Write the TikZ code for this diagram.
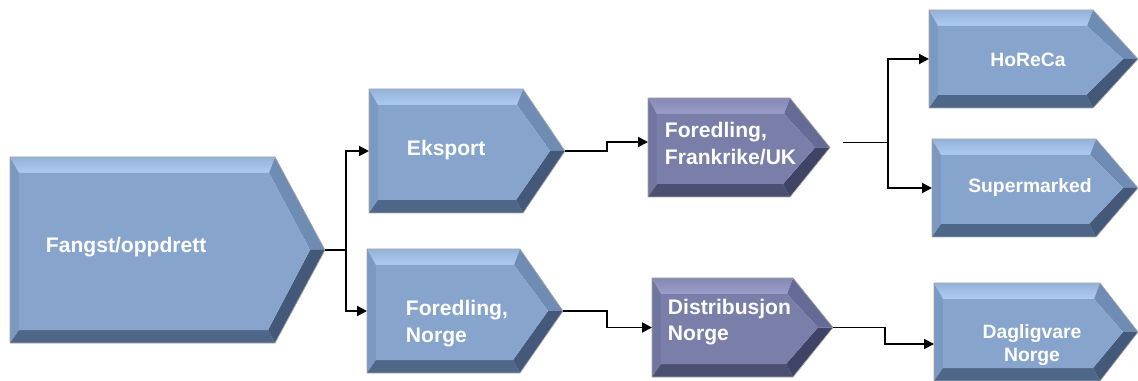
\documentclass[tikz,border=0pt]{standalone}
\usepackage{fontspec}
\setmainfont{Liberation Sans}
\usetikzlibrary{calc, arrows.meta}

% farger: lys og mork boks
\definecolor{ltmain}{HTML}{87A4CC}
\definecolor{lttop}{HTML}{AECBF0}
\definecolor{ltleft}{HTML}{7C99C2}
\definecolor{ltbot}{HTML}{4E6687}
\definecolor{ltrup}{HTML}{6F8CB4}
\definecolor{ltrlo}{HTML}{44597A}
\definecolor{dkmain}{HTML}{7A7FAA}
\definecolor{dktop}{HTML}{9A9EC8}
\definecolor{dkleft}{HTML}{7176A0}
\definecolor{dkbot}{HTML}{4B4F72}
\definecolor{dkrup}{HTML}{666B95}
\definecolor{dkrlo}{HTML}{3F4366}

% pil-boks med skra kant: navn, spisslengde, farge
\newcommand{\chevron}[3]{%
  \coordinate (#1-tip) at ($(#1.east)+(#2,0)$);
  \coordinate (#1-a) at ($(#1.north west)+(9,16)$);
  \coordinate (#1-b) at ($(#1.north east)+(-6,16)$);
  \coordinate (#1-c) at ($(#1-tip)+(-15,0)$);
  \coordinate (#1-d) at ($(#1.south east)+(-7,-13)$);
  \coordinate (#1-e) at ($(#1.south west)+(9,-13)$);
  \shade[top color=#3top!35!#3main, bottom color=#3top] (#1.north west) -- (#1.north east) -- (#1-b) -- (#1-a) -- cycle;
  \fill[#3left] (#1.north west) -- (#1-a) -- (#1-e) -- (#1.south west) -- cycle;
  \fill[#3bot] (#1.south west) -- (#1-e) -- (#1-d) -- (#1.south east) -- cycle;
  \fill[#3rup] (#1.north east) -- (#1-tip) -- (#1-c) -- (#1-b) -- cycle;
  \fill[#3rlo] (#1-tip) -- (#1.south east) -- (#1-d) -- (#1-c) -- cycle;
  \fill[#3main] (#1-a) -- (#1-b) -- (#1-c) -- (#1-d) -- (#1-e) -- cycle;
  \draw[edge] (#1.north west) -- (#1.north east) -- (#1-tip) -- (#1.south east) -- (#1.south west) -- cycle;
}

\begin{document}
\begin{tikzpicture}[x=0.02cm, y=-0.02cm, >={Triangle[length=0.2cm, width=0.2cm]}, line width=1.1pt]
        \tikzset{
          body/.style 2 args={rectangle, inner sep=0pt, outer sep=0pt, minimum width=#1*0.02cm, minimum height=#2*0.02cm},
          edge/.style={draw=gray!70, line width=0.4pt},
          lbl/.style={text=white, font=\bfseries\fontsize{12}{15}\selectfont, align=left, inner sep=0pt},
          lbls/.style={lbl, font=\bfseries\fontsize{11}{13.5}\selectfont, align=center}
        }
        \useasboundingbox (0,0) rectangle (1138,381);

        % Bokser
        \node [body={265}{186}] (fang) at (142.5,250) {};
        \node [body={154}{124}] (eks) at (446,151) {};
        \node [body={153}{124}] (fno) at (443.5,311) {};
        \node [body={142}{99}] (fuk) at (719,147.5) {};
        \node [body={141}{99}] (dno) at (722.5,327.5) {};
        \node [body={164}{98}] (hor) at (1011,59) {};
        \node [body={164}{98}] (sup) at (1014,188) {};
        \node [body={166}{98}] (dag) at (1017,332) {};

        \chevron{fang}{50}{lt}
        \chevron{eks}{42}{lt}
        \chevron{fno}{43}{lt}
        \chevron{fuk}{40}{dk}
        \chevron{dno}{40}{dk}
        \chevron{hor}{45}{lt}
        \chevron{sup}{42}{lt}
        \chevron{dag}{38}{lt}

        % Tekst
        \node [lbl, anchor=west] (fang-l) at ($(fang.west)+(35,-3)$) {Fangst/oppdrett};
        \node [lbl, anchor=west] (eks-l) at ($(eks.west)+(37,-1)$) {Eksport};
        \node [lbl, anchor=west] (fno-l) at ($(fno.west)+(38,12.5)$) {Foredling,\\Norge};
        \node [lbl, anchor=west] (fuk-l) at ($(fuk.west)+(16,-4)$) {Foredling,\\Frankrike/UK};
        \node [lbl, anchor=west] (dno-l) at ($(dno.west)+(15,-5.5)$) {Distribusjon\\Norge};
        \node [lbls] (hor-l) at ($(hor.center)+(17,1)$) {HoReCa};
        \node [lbls] (sup-l) at ($(sup.center)+(16,0)$) {Supermarked};
        \node [lbls] (dag-l) at ($(dag.center)+(15,13)$) {Dagligvare\\Norge};

        % Piler
        \draw[->] (fang-tip) -- ++(21,0) |- (eks.west);
        \draw[->] (fang-tip) -- ++(21,0) |- (fno.west);
        \draw[->] (eks-tip) -- ++(42,0) |- ($(fuk.west)+(0,-5.5)$);
        \coordinate (fuk-out) at ($(fuk-tip)+(13,-5)$);
        \draw[->] (fuk-out) -- ++(45,0) |- (hor.west);
        \draw[->] (fuk-out) -- ++(45,0) |- (sup.west);
        \draw[->] (fno-tip) -- ++(44,0) |- (dno.west);
        \draw[->] (dno-tip) -- ++(52,0) |- ($(dag.west)+(0,12)$);

        \end{tikzpicture}
\end{document}
